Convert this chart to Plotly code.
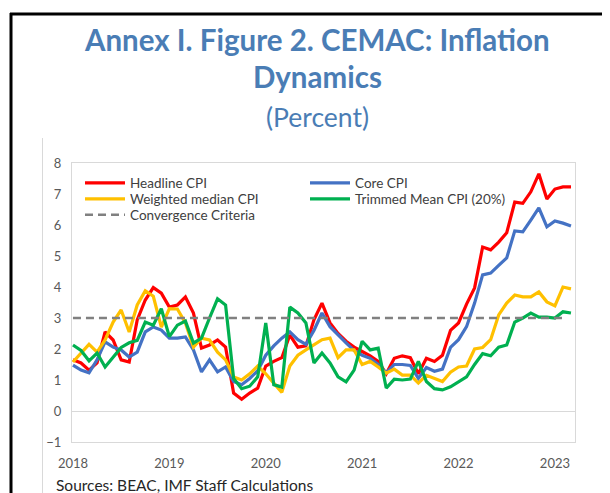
import plotly.graph_objects as go

# ---- data (monthly, Jan 2018 - Mar 2023) ----
months = [f"{y}-{m:02d}" for y in range(2018, 2024) for m in range(1, 13)][:63]

headline_cpi = [1.65, 1.55, 1.32, 1.55, 2.55, 2.29, 1.65, 1.58, 2.94, 3.58, 3.98, 3.8,
                3.35, 3.42, 3.68, 3.16, 2.03, 2.13, 2.29, 2.06, 0.58, 0.38, 0.58, 0.74,
                1.45, 1.6, 1.72, 2.45, 2.06, 2.1, 2.94, 3.48, 2.84, 2.5, 2.25, 2.06,
                1.92, 1.78, 1.6, 1.2, 1.7, 1.78, 1.72, 1.2, 1.7, 1.6, 1.8, 2.6,
                2.84, 3.45, 3.97, 5.29, 5.2, 5.45, 5.75, 6.74, 6.7, 7.07, 7.65, 6.84,
                7.16, 7.23, 7.23]
core_cpi = [1.48, 1.32, 1.23, 1.65, 2.23, 2.06, 1.97, 1.74, 1.9, 2.55, 2.71, 2.61,
            2.35, 2.35, 2.39, 1.97, 1.26, 1.65, 1.26, 1.42, 0.95, 0.85, 1.05, 1.3,
            1.8, 2.1, 2.35, 2.55, 2.3, 2.15, 2.6, 3.16, 2.72, 2.45, 2.2, 1.95,
            1.8, 1.7, 1.5, 1.23, 1.5, 1.5, 1.47, 1.05, 1.4, 1.28, 1.35, 2.05,
            2.3, 2.72, 3.48, 4.39, 4.45, 4.7, 4.94, 5.81, 5.78, 6.16, 6.55, 5.94,
            6.13, 6.06, 5.97]
weighted_median_cpi = [1.58, 1.87, 2.15, 1.9, 2.29, 2.87, 3.26, 2.55, 3.42, 3.88, 3.7, 2.71,
                       3.3, 3.29, 2.84, 2.06, 2.35, 2.29, 1.9, 1.65, 1.1, 1.0, 1.2, 1.45,
                       1.2, 0.9, 0.6, 1.45, 1.8, 1.97, 2.15, 2.3, 2.35, 1.72, 1.97, 1.97,
                       1.5, 1.6, 1.42, 1.22, 1.35, 1.16, 1.16, 0.9, 1.15, 1.05, 0.95, 1.25,
                       1.42, 1.45, 2.0, 2.05, 2.3, 3.1, 3.48, 3.74, 3.68, 3.68, 3.84, 3.52,
                       3.39, 4.0, 3.94]
trimmed_mean_cpi = [2.13, 1.95, 1.62, 1.87, 1.42, 1.72, 2.05, 2.2, 2.28, 2.87, 2.77, 3.3,
                    2.4, 2.77, 2.9, 2.19, 2.35, 3.0, 3.62, 3.42, 1.05, 0.72, 0.8, 1.1,
                    2.84, 0.85, 0.77, 3.35, 3.16, 2.84, 1.55, 1.87, 1.55, 1.1, 0.94, 1.32,
                    2.25, 1.97, 2.03, 0.74, 1.03, 1.0, 1.03, 1.6, 0.95, 0.72, 0.68, 0.78,
                    0.94, 1.1, 1.5, 1.85, 1.78, 2.06, 2.13, 2.87, 3.0, 3.16, 3.03, 3.03,
                    3.0, 3.2, 3.16]
convergence_criteria = [3.0] * 62

year_ticks = ["2018-01", "2019-01", "2020-01", "2021-01", "2022-01", "2023-01"]
year_labels = ["2018", "2019", "2020", "2021", "2022", "2023"]
y_ticks = [-1, 0, 1, 2, 3, 4, 5, 6, 7, 8]

# ---- layout geometry ----
# the page body has an 8px margin, so the figure is 602x485 drawn at (8, 8)
OFF = 8
W, H = 610 - OFF, 493 - OFF
L, R, T, B = 64, 35, 155, 51
PW, PH = W - L - R, H - T - B


def px(x):  # page pixel x -> paper
    return (x - OFF - L) / PW


def py(y):  # page pixel y -> paper
    return (H - B - (y - OFF)) / PH


FONT = "Lato, 'Open Sans', sans-serif"
TITLE_COLOR = "#4A7DB5"

fig = go.Figure()
series = [
    ("Headline CPI", headline_cpi, "#FF0000", "legend"),
    ("Core CPI", core_cpi, "#4472C4", "legend"),
    ("Weighted median CPI", weighted_median_cpi, "#FFC000", "legend2"),
    ("Trimmed Mean CPI (20%)", trimmed_mean_cpi, "#00B050", "legend2"),
]
for name, vals, col, lg in series:
    fig.add_trace(go.Scatter(x=months[:len(vals)], y=vals, mode="lines", name=name,
                             legend=lg, line=dict(color=col, width=3.2)))
fig.add_trace(go.Scatter(x=months[:len(convergence_criteria)], y=convergence_criteria,
                         mode="lines", name="Convergence Criteria", legend="legend3",
                         line=dict(color="#808080", width=2.5, dash="8px,5px")))

legend_common = dict(orientation="h", xanchor="left", yanchor="middle",
                     entrywidth=170, entrywidthmode="pixels", itemwidth=40,
                     font=dict(family=FONT, size=13.5, color="#404040"),
                     bgcolor="rgba(0,0,0,0)", borderwidth=0)

fig.update_layout(
    width=W, height=H,
    margin=dict(l=L, r=R, t=T, b=B, pad=0),
    paper_bgcolor="white", plot_bgcolor="white",
    font=dict(family=FONT, size=13, color="#595959"),
    showlegend=True,
    legend=dict(x=px(80), y=py(183), **legend_common),
    legend2=dict(x=px(80), y=py(199), **legend_common),
    legend3=dict(x=px(80), y=py(215), **legend_common),
    xaxis=dict(type="category", range=[-0.12, 62.5], tickmode="array",
               tickvals=year_ticks, ticktext=year_labels, showgrid=False,
               showline=True, mirror=True, linecolor="#D9D9D9", linewidth=1,
               ticks="", ticklabelstandoff=9, zeroline=False,
               tickfont=dict(family=FONT, size=13, color="#595959")),
    yaxis=dict(range=[-1, 8], tickmode="array", tickvals=y_ticks, showgrid=False,
               showline=True, mirror=True, linecolor="#D9D9D9", linewidth=1,
               zeroline=True, zerolinecolor="#D9D9D9", zerolinewidth=1.3,
               ticks="", ticklabelstandoff=7,
               tickfont=dict(family=FONT, size=13, color="#595959")),
)

annotations = [
    dict(text="<b>Annex I. Figure 2. CEMAC: Inflation</b>", x=px(317), y=py(40),
         font=dict(size=29.5, color=TITLE_COLOR, family=FONT)),
    dict(text="<b>Dynamics</b>", x=px(317), y=py(76),
         font=dict(size=29.5, color=TITLE_COLOR, family=FONT)),
    dict(text="(Percent)", x=px(317), y=py(117),
         font=dict(size=26.5, color=TITLE_COLOR, family=FONT)),
    dict(text="Sources: BEAC, IMF Staff Calculations", x=px(54), y=py(485),
         xanchor="left", font=dict(size=15.5, color="#262626", family=FONT)),
]
for a in annotations:
    a.setdefault("xanchor", "center")
    a.update(xref="paper", yref="paper", showarrow=False, yanchor="middle")
fig.update_layout(annotations=annotations)

shapes = [
    dict(type="line", x0=px(10), x1=px(612), y0=py(14), y1=py(14),
         line=dict(color="black", width=3)),
    dict(type="line", x0=px(11), x1=px(11), y0=py(13), y1=py(495),
         line=dict(color="black", width=3)),
    dict(type="line", x0=px(42.5), x1=px(42.5), y0=py(138), y1=py(495),
         line=dict(color="#D9D9D9", width=1)),
]
for s in shapes:
    s.update(xref="paper", yref="paper", layer="above")
fig.update_layout(shapes=shapes)

fig.write_html("out.html")
